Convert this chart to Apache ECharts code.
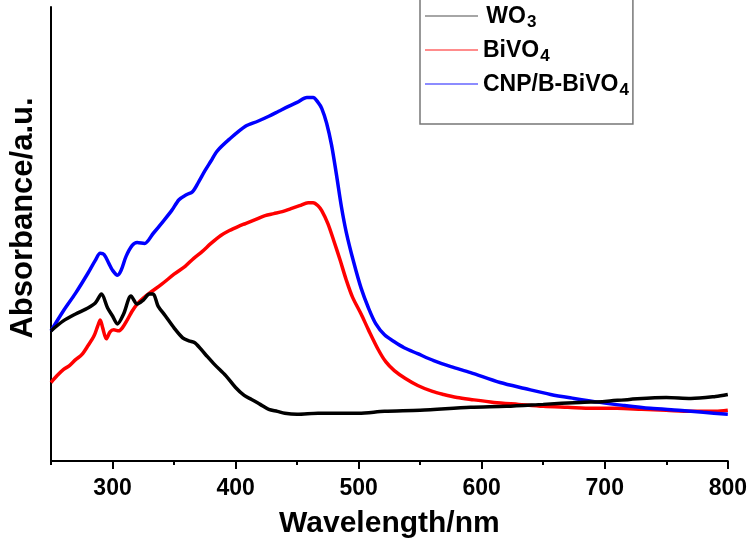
<!DOCTYPE html>
<html>
<head>
<meta charset="utf-8">
<script src="https://cdn.jsdelivr.net/npm/echarts@6/dist/echarts.min.js"></script>
<style>html,body{margin:0;padding:0;background:#fff}#c{width:750px;height:544px}</style>
</head>
<body>
<div id="c"></div>
<script>
// Series names
const seriesNames = ['WO3', 'BiVO4', 'CNP/B-BiVO4'];
// Major / minor tick values on the wavelength axis
const majorTicks = [300, 400, 500, 600, 700, 800];
const minorTicks = [250, 350, 450, 550, 650, 750];

// WO3 (black)
const wlWO3 = [250,260,270,280,286,291,296,300,304,309,315,320,325,330,333,337,343,350,357,362,367,375,383,392,400,407,413,420,427,434,440,450,467,500,521,550,591,620,650,680,700,720,750,770,790,800];
const absWO3 = [131,141,148,154,159,168,154,146,138,148,166,158,162,168,168,156,146,134,124,121,119,108,97,86,74,66,62,57,52,50,48,47,48,48,50,51,54,55,57,59,60,62,64,63,65,67];

// BiVO4 (red)
const wlBiVO4 = [250,255,260,265,270,275,280,285,288,290,292,295,298,301,305,308,312,316,320,325,330,340,350,359,366,373,380,388,395,402,408,416,424,431,438,445,452,459,463,467,470,475,480,485,490,495,502,508,516,522,529,538,548,560,569,580,591,610,630,650,670,690,710,730,750,770,790,800];
const absBiVO4 = [79,86,92,96,102,107,116,126,136,142,134,123,130,132,131,134,142,151,158,164,169,178,188,196,204,211,219,227,232,236,239,243,247,249,251,254,257,260,260,257,252,239,221,202,182,165,148,132,112,100,91,83,76,70,67,64,62,59,57,55,54,53,53,52,51,50,50,51];

// CNP/B-BiVO4 (blue)
const wlCNP = [250,260,270,280,286,290,293,297,300,304,307,311,316,320,326,333,341,348,354,360,365,370,375,380,385,395,408,418,427,435,443,450,458,463,467,470,474,478,482,486,490,496,502,508,514,521,529,537,548,561,575,591,615,635,656,675,696,715,737,760,780,800];
const absCNP = [131,151,169,189,202,209,208,199,192,187,192,206,217,220,219,229,241,252,263,268,271,281,292,302,312,324,337,342,347,352,357,361,366,366,361,355,340,318,288,256,230,200,174,154,138,127,120,114,108,101,95,89,79,73,67,63,59,56,53,51,49,47];

const zip = (xs, ys) => xs.map((x, i) => [x, ys[i]]);
const FONT = '"Liberation Sans", Arial, sans-serif';

const chart = echarts.init(document.getElementById('c'), null, {renderer: 'canvas'});
const richStyles = {
  b: {fontSize: 23, fontWeight: 'bold', fontFamily: FONT, color: '#000', verticalAlign: 'top', lineHeight: 22},
  s: {fontSize: 17, fontWeight: 'bold', fontFamily: FONT, color: '#000', verticalAlign: 'top', lineHeight: 22, padding: [9, 0, 0, 1]}
};
const legendLabel = {
  'WO3': ' {b|WO}{s|3}',
  'BiVO4': '{b|BiVO}{s|4}',
  'CNP/B-BiVO4': '{b|CNP/B-BiVO}{s|4}'
};

chart.setOption({
  animation: false,
  backgroundColor: '#fff',
  grid: {left: 48, right: 22, top: 7, bottom: 80, containLabel: false},
  legend: {
    orient: 'vertical',
    left: 420,
    top: -1,
    padding: [6, 4, 25, 5],
    itemGap: 8,
    itemWidth: 53,
    itemHeight: 1.5,
    borderColor: '#777',
    borderWidth: 1.5,
    data: [
      {name: seriesNames[0], icon: 'rect', itemStyle: {color: '#888'}},
      {name: seriesNames[1], icon: 'rect', itemStyle: {color: '#f66'}},
      {name: seriesNames[2], icon: 'rect', itemStyle: {color: '#66f'}}
    ],
    formatter: n => legendLabel[n],
    textStyle: {rich: richStyles, padding: [0, 0, 0, 0]}
  },
  xAxis: [{
    type: 'value', min: 250, max: 800,
    name: 'Wavelength/nm', nameLocation: 'middle', nameGap: 48,
    nameTextStyle: {fontSize: 30, fontWeight: 'bold', fontFamily: FONT, color: '#000'},
    axisLine: {show: true, lineStyle: {color: '#000', width: 2}},
    axisTick: {show: true, customValues: majorTicks, length: 8, lineStyle: {color: '#000', width: 2}},
    axisLabel: {show: true, customValues: majorTicks, margin: 16, fontSize: 23, fontWeight: 'bold', fontFamily: FONT, color: '#000'},
    splitLine: {show: false}
  }, {
    type: 'value', min: 250, max: 800, position: 'bottom',
    axisLine: {show: false},
    axisTick: {show: true, customValues: minorTicks, length: 4, lineStyle: {color: '#000', width: 2}},
    axisLabel: {show: false},
    splitLine: {show: false}
  }],
  yAxis: {
    type: 'value', min: 0, max: 457,
    name: 'Absorbance/a.u.', nameLocation: 'middle', nameGap: 12, nameRotate: 90,
    nameTextStyle: {fontSize: 31, fontWeight: 'bold', fontFamily: FONT, color: '#000', padding: [0, 0, 0, 32]},
    axisLine: {show: true, lineStyle: {color: '#000', width: 2}},
    axisTick: {show: false},
    axisLabel: {show: false},
    splitLine: {show: false}
  },
  series: [
    {name: seriesNames[0], type: 'line', data: zip(wlWO3, absWO3), showSymbol: false, symbol: 'none', smooth: 0.3, lineStyle: {color: '#000', width: 3.5}, itemStyle: {color: '#000'}, z: 3},
    {name: seriesNames[1], type: 'line', data: zip(wlBiVO4, absBiVO4), showSymbol: false, symbol: 'none', smooth: 0.3, lineStyle: {color: '#ff0000', width: 3.5}, itemStyle: {color: '#ff0000'}, z: 2},
    {name: seriesNames[2], type: 'line', data: zip(wlCNP, absCNP), showSymbol: false, symbol: 'none', smooth: 0.3, lineStyle: {color: '#0000ff', width: 3.5}, itemStyle: {color: '#0000ff'}, z: 2}
  ]
});
</script>
</body>
</html>
